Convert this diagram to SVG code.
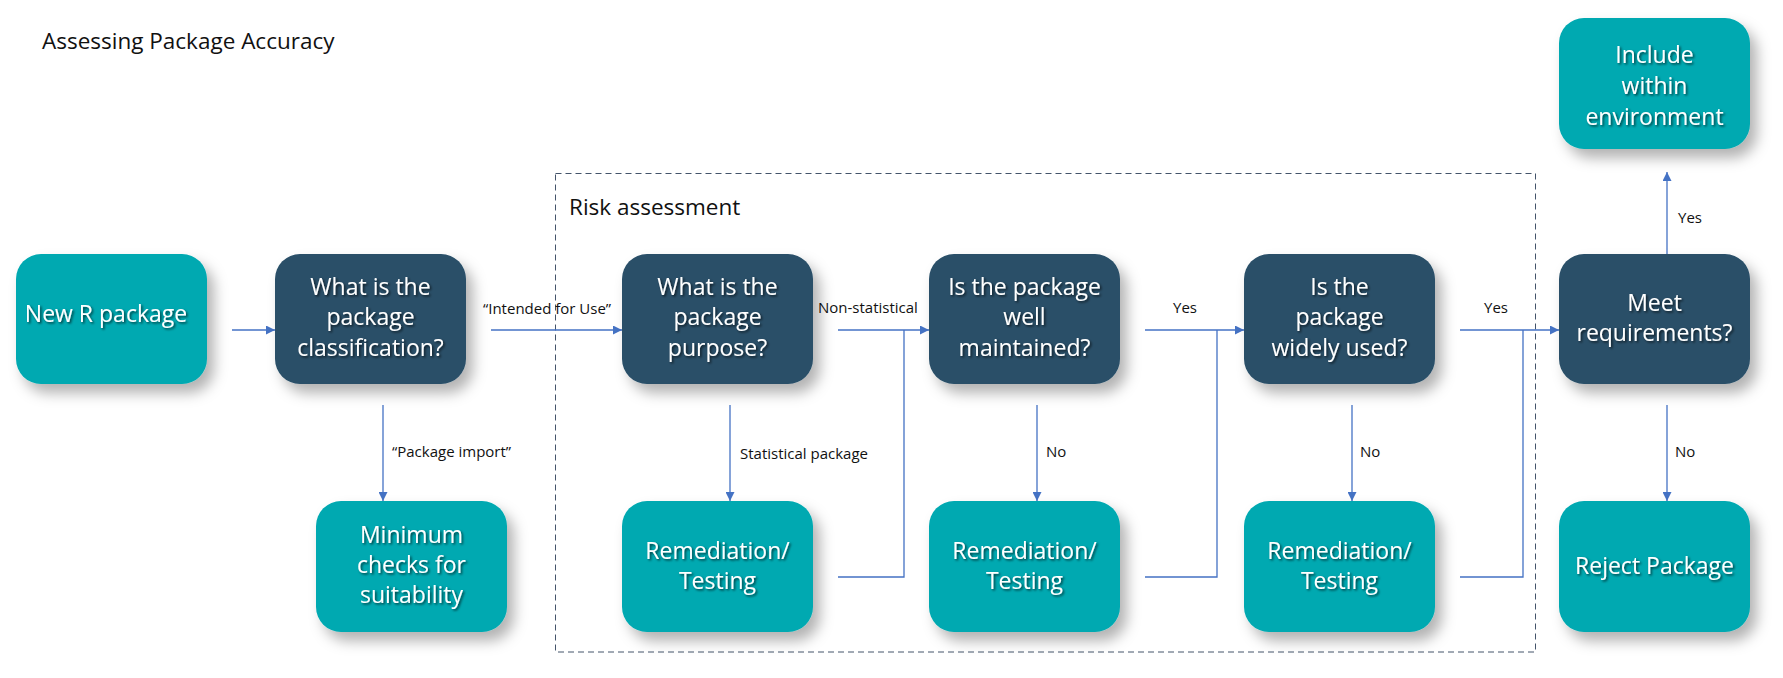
<svg xmlns="http://www.w3.org/2000/svg" width="1783" height="678" viewBox="0 0 1783 678">
<defs>
<style>
.teal{fill:#00A9B1}
.dark{fill:#294F68}
.node rect{filter:url(#shadow)}
.nt{font-family:"Open Sans","Liberation Sans",sans-serif;font-size:23px;fill:#ffffff;text-anchor:middle;filter:url(#tshadow)}
.lbl{font-family:"Open Sans","Liberation Sans",sans-serif;font-size:15px;fill:#111111}
.title{font-family:"Open Sans","Liberation Sans",sans-serif;font-size:22.5px;fill:#111111}
.ln{fill:none;stroke:#4472C4;stroke-width:1.3}
.arr{marker-end:url(#ah)}
</style>
<filter id="shadow" x="-20%" y="-20%" width="150%" height="160%">
<feDropShadow dx="7" dy="9" stdDeviation="7" flood-color="#000000" flood-opacity="0.3"/>
</filter>
<filter id="tshadow" x="-10%" y="-30%" width="120%" height="170%">
<feDropShadow dx="1.5" dy="1.5" stdDeviation="1" flood-color="#000000" flood-opacity="0.65"/>
</filter>
<marker id="ah" markerUnits="userSpaceOnUse" markerWidth="9" markerHeight="9" viewBox="0 0 10 10" refX="10" refY="5" orient="auto">
<path d="M0,0 L10,5 L0,10 z" fill="#4472C4"/>
</marker>
</defs>
<rect x="0" y="0" width="1783" height="678" fill="#ffffff"/>
<text class="title" x="42" y="49">Assessing Package Accuracy</text>
<g id="risk-assessment">
<rect x="555.5" y="173.5" width="980" height="478.5" fill="none" stroke="#44546A" stroke-width="1" stroke-dasharray="6,4"/>
<text class="title" x="569" y="215">Risk assessment</text>
</g>
<g id="connectors">
<line class="ln arr" x1="232" y1="330" x2="275" y2="330"/>
<line class="ln arr" x1="491" y1="330" x2="622" y2="330"/>
<text class="lbl" x="483" y="314">“Intended for Use”</text>
<line class="ln arr" x1="383" y1="405" x2="383" y2="501"/>
<text class="lbl" x="392" y="457">“Package import”</text>
<line class="ln arr" x1="838" y1="330" x2="929" y2="330"/>
<text class="lbl" x="818" y="313">Non-statistical</text>
<line class="ln arr" x1="730" y1="405" x2="730" y2="501"/>
<text class="lbl" x="740" y="459">Statistical package</text>
<polyline class="ln" points="838,577 904,577 904,330"/>
<line class="ln arr" x1="1145" y1="330" x2="1244" y2="330"/>
<text class="lbl" x="1173" y="313">Yes</text>
<line class="ln arr" x1="1037" y1="405" x2="1037" y2="501"/>
<text class="lbl" x="1046" y="457">No</text>
<polyline class="ln" points="1145,577 1217,577 1217,330"/>
<line class="ln arr" x1="1460" y1="330" x2="1559" y2="330"/>
<text class="lbl" x="1484" y="313">Yes</text>
<line class="ln arr" x1="1352" y1="405" x2="1352" y2="501"/>
<text class="lbl" x="1360" y="457">No</text>
<polyline class="ln" points="1460,577 1523,577 1523,330"/>
<line class="ln arr" x1="1667" y1="254" x2="1667" y2="172"/>
<text class="lbl" x="1678" y="223">Yes</text>
<line class="ln arr" x1="1667" y1="405" x2="1667" y2="501"/>
<text class="lbl" x="1675" y="457">No</text>
</g>
<g id="new-r-package" class="node">
<rect class="teal" x="16" y="254" width="191" height="130" rx="25"/>
<text class="nt" x="106" y="322">New R package</text>
</g>
<g id="package-classification" class="node">
<rect class="dark" x="275" y="254" width="191" height="130" rx="25"/>
<text class="nt" x="370.5" y="294.5">What is the</text>
<text class="nt" x="370.5" y="325">package</text>
<text class="nt" x="370.5" y="355.5">classification?</text>
</g>
<g id="minimum-checks" class="node">
<rect class="teal" x="316" y="501" width="191" height="131" rx="25"/>
<text class="nt" x="411.5" y="542.5">Minimum</text>
<text class="nt" x="411.5" y="573">checks for</text>
<text class="nt" x="411.5" y="603">suitability</text>
</g>
<g id="package-purpose" class="node">
<rect class="dark" x="622" y="254" width="191" height="130" rx="25"/>
<text class="nt" x="717.5" y="294.5">What is the</text>
<text class="nt" x="717.5" y="325">package</text>
<text class="nt" x="717.5" y="355.5">purpose?</text>
</g>
<g id="remediation-1" class="node">
<rect class="teal" x="622" y="501" width="191" height="131" rx="25"/>
<text class="nt" x="717.5" y="558.5">Remediation/</text>
<text class="nt" x="717.5" y="589">Testing</text>
</g>
<g id="well-maintained" class="node">
<rect class="dark" x="929" y="254" width="191" height="130" rx="25"/>
<text class="nt" x="1024.5" y="294.5">Is the package</text>
<text class="nt" x="1024.5" y="325">well</text>
<text class="nt" x="1024.5" y="355.5">maintained?</text>
</g>
<g id="remediation-2" class="node">
<rect class="teal" x="929" y="501" width="191" height="131" rx="25"/>
<text class="nt" x="1024.5" y="558.5">Remediation/</text>
<text class="nt" x="1024.5" y="589">Testing</text>
</g>
<g id="widely-used" class="node">
<rect class="dark" x="1244" y="254" width="191" height="130" rx="25"/>
<text class="nt" x="1339.5" y="294.5">Is the</text>
<text class="nt" x="1339.5" y="325">package</text>
<text class="nt" x="1339.5" y="355.5">widely used?</text>
</g>
<g id="remediation-3" class="node">
<rect class="teal" x="1244" y="501" width="191" height="131" rx="25"/>
<text class="nt" x="1339.5" y="558.5">Remediation/</text>
<text class="nt" x="1339.5" y="589">Testing</text>
</g>
<g id="meet-requirements" class="node">
<rect class="dark" x="1559" y="254" width="191" height="130" rx="25"/>
<text class="nt" x="1654.5" y="310.5">Meet</text>
<text class="nt" x="1654.5" y="341">requirements?</text>
</g>
<g id="include-within-environment" class="node">
<rect class="teal" x="1559" y="18" width="191" height="131" rx="25"/>
<text class="nt" x="1654.5" y="62.5">Include</text>
<text class="nt" x="1654.5" y="94">within</text>
<text class="nt" x="1654.5" y="125">environment</text>
</g>
<g id="reject-package" class="node">
<rect class="teal" x="1559" y="501" width="191" height="131" rx="25"/>
<text class="nt" x="1654.5" y="573.5">Reject Package</text>
</g>
</svg>
